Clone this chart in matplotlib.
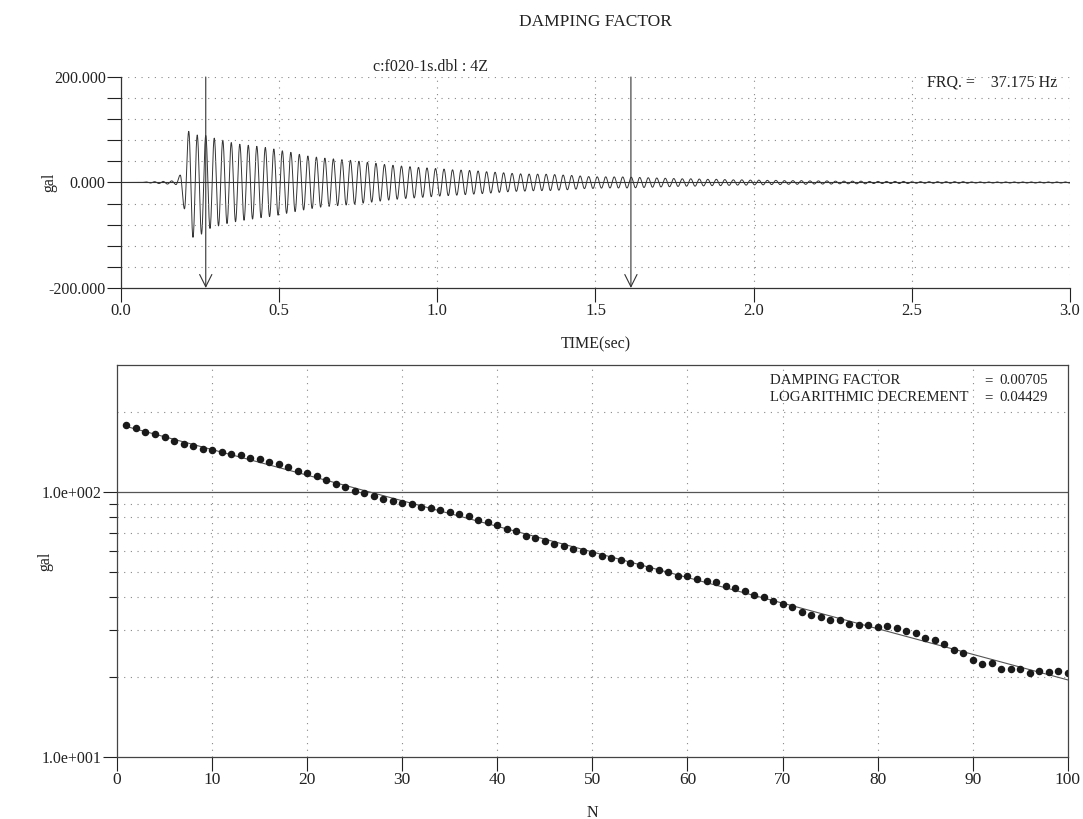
import numpy as np
import matplotlib
matplotlib.use("Agg")
import matplotlib.pyplot as plt
from matplotlib.ticker import FixedLocator, NullFormatter

plt.rcParams['font.family'] = ['Liberation Serif', 'DejaVu Serif']

# --- data ---
frq = 37.175                      # Hz, printed on the chart
cursors = [0.268, 1.612]          # sec, the two arrow markers
damping_factor = 0.00705
log_decrement = 0.04429

# half-cycle extremes (gal) before the first cursor
pre_ext = [1, -1, 1.5, -2, 2, -3, 3, -4, 14, -50, 97, -104, 90, -98]

# peak-to-peak amplitude of each half cycle N = 1..100 (gal), lower plot
amp_pp = [178.0, 174.4, 168.2, 164.5, 160.0, 155.6, 151.3, 148.8, 145.1, 143.3,
          141.3, 138.7, 137.1, 133.7, 132.7, 129.4, 127.0, 124.2, 120.1, 117.1,
          114.2, 110.4, 106.8, 104.2, 100.4, 98.5, 96.1, 93.7, 92.2, 90.7,
          89.5, 87.8, 86.6, 85.4, 84.0, 82.4, 80.6, 78.4, 76.7, 74.6,
          72.6, 70.8, 68.2, 66.9, 65.3, 63.5, 62.2, 60.7, 59.9, 58.7,
          57.3, 56.3, 55.1, 53.9, 53.0, 51.7, 50.8, 49.9, 48.1, 48.2,
          47.0, 46.1, 45.6, 44.2, 43.5, 42.2, 40.8, 40.1, 38.8, 37.7,
          36.8, 35.3, 34.4, 33.7, 32.7, 32.8, 31.8, 31.4, 31.5, 30.9,
          31.2, 30.5, 29.9, 29.3, 28.1, 27.6, 26.6, 25.3, 24.6, 23.2,
          22.4, 22.7, 21.4, 21.4, 21.4, 20.8, 21.1, 20.9, 21.0, 20.8]

# peak-to-peak per full cycle after the second cursor (gal)
tail_pp = [20, 19, 18, 17, 16, 15, 14, 14, 13, 12, 12, 11, 10, 10, 9, 9, 8, 8,
           7, 7, 7, 6, 6, 6, 5, 5, 5, 5, 4, 4, 4, 4, 4, 3, 3, 3, 3, 3, 3, 3,
           2, 2, 2, 2, 2, 2, 2, 2, 2, 2, 2, 2]

ink = '#222222'
grid_kw = dict(color='#888888', linestyle=(0, (1, 5)), linewidth=0.8)

# --- build the waveform from the half-cycle extremes ---
h = 1.0 / (2 * frq)
ext = list(pre_ext)
for n, a in enumerate(amp_pp):
    ext.append(a / 2 if n % 2 == 0 else -a / 2)
for a in tail_pp:
    ext += [a / 2, -a / 2]
ext = np.array([0.0] + ext + [0.0])
tk = cursors[0] + (np.arange(len(ext)) - len(pre_ext) - 1) * h

t = np.linspace(0, 3.0, 9000)
i = np.clip(np.searchsorted(tk, t) - 1, 0, len(tk) - 2)
ph = np.clip((t - tk[i]) / h, 0, 1)
acc = (ext[i] + ext[i + 1]) / 2 + (ext[i] - ext[i + 1]) / 2 * np.cos(np.pi * ph)
acc[t < tk[0]] = 0.0

fig = plt.figure(figsize=(10.83, 8.19), dpi=100)
fig.text(0.55, 0.973, 'DAMPING FACTOR', ha='center', va='center', fontsize=12.5, color=ink)

# ---------------- top: time history ----------------
ax1 = fig.add_axes([0.1117, 0.6484, 0.8763, 0.2576])
ax1.plot(t, acc, color='#333333', linewidth=0.7)
ax1.axhline(0, color='#333333', linewidth=0.8)
ax1.set_xlim(0, 3.0)
ax1.set_ylim(-200, 200)
ax1.set_xticks(np.arange(0, 3.01, 0.5))
ax1.set_xticklabels(['%.1f' % v for v in np.arange(0, 3.01, 0.5)])
ax1.set_yticks([-200, 0, 200])
ax1.set_yticklabels(['-200.000', '0.000', '200.000'])
ax1.yaxis.set_minor_locator(FixedLocator(np.arange(-200, 201, 40)))
ax1.tick_params(which='both', direction='out', length=10, width=0.8, colors=ink, labelsize=11.5)
ax1.tick_params(axis='x', pad=1, labelsize=12)
ax1.tick_params(axis='y', pad=1)
for v in np.arange(-160, 201, 40):
    if v != 0:
        ax1.axhline(v, **grid_kw)
for v in np.arange(0.5, 3.01, 0.5):
    ax1.axvline(v, **grid_kw)
for s in ['top', 'right']:
    ax1.spines[s].set_visible(False)
for s in ['left', 'bottom']:
    ax1.spines[s].set_color('#333333')
    ax1.spines[s].set_linewidth(0.9)
for c in cursors:
    ax1.annotate('', xy=(c, -200), xytext=(c, 200),
                 arrowprops=dict(arrowstyle='->', color='#333333', lw=0.8,
                                 mutation_scale=22, shrinkA=0, shrinkB=0))
ax1.text(0.2655, 1.008, 'c:f020-1s.dbl : 4Z', transform=ax1.transAxes,
         ha='left', va='bottom', fontsize=11.5, color=ink)
ax1.text(0.987, 1.012, 'FRQ. =    %.3f Hz' % frq, transform=ax1.transAxes,
         ha='right', va='top', fontsize=11.5, color=ink)
ax1.set_xlabel('TIME(sec)', fontsize=11.5, color=ink, labelpad=12)
fig.text(0.046, 0.777, 'gal', rotation=90, ha='center', va='center', fontsize=11.5, color=ink)

# ---------------- bottom: peak amplitude vs N ----------------
N = np.arange(1, len(amp_pp) + 1)
coef = np.polyfit(N, np.log(amp_pp), 1)
fit = np.exp(np.polyval(coef, N))

ax2 = fig.add_axes([0.108, 0.0757, 0.878, 0.4786])
ax2.set_yscale('log')
ax2.set_xlim(0, 100)
ax2.set_ylim(10, 300)
for v in [20, 30, 40, 50, 60, 70, 80, 90, 200]:
    ax2.axhline(v, **grid_kw)
ax2.axhline(100, color='#555555', linewidth=0.9)
for v in range(10, 100, 10):
    ax2.axvline(v, **grid_kw)
ax2.plot(N, fit, color='#555555', linewidth=0.8)
ax2.plot(N, amp_pp, 'o', color='#1a1a1a', markersize=4.4)
ax2.set_xticks(range(0, 101, 10))
ax2.set_yticks([10, 100])
ax2.set_yticklabels(['1.0e+001', '1.0e+002'])
ax2.yaxis.set_minor_locator(FixedLocator([20, 30, 40, 50, 60, 70, 80, 90]))
ax2.yaxis.set_minor_formatter(NullFormatter())
ax2.tick_params(which='major', direction='out', length=10, width=0.8, colors=ink, labelsize=11.5)
ax2.tick_params(which='minor', direction='out', length=6, width=0.8, colors=ink)
ax2.tick_params(axis='x', labelsize=12.5, pad=1)
ax2.tick_params(axis='y', pad=1)
for s in ax2.spines.values():
    s.set_color('#444444')
    s.set_linewidth(0.9)
ax2.text(0.687, 0.978, 'DAMPING FACTOR\nLOGARITHMIC DECREMENT', transform=ax2.transAxes,
         ha='left', va='top', fontsize=10.7, color=ink, linespacing=1.4)
ax2.text(0.912, 0.978, '=\n=', transform=ax2.transAxes,
         ha='left', va='top', fontsize=10.7, color=ink, linespacing=1.4)
ax2.text(0.9285, 0.978, '%.5f\n%.5f' % (damping_factor, log_decrement),
         transform=ax2.transAxes, ha='left', va='top', fontsize=10.7, color=ink, linespacing=1.4)
ax2.set_xlabel('N', fontsize=11.5, color=ink, labelpad=12)
fig.text(0.042, 0.315, 'gal', rotation=90, ha='center', va='center', fontsize=11.5, color=ink)

fig.savefig('out.png', dpi=100)
